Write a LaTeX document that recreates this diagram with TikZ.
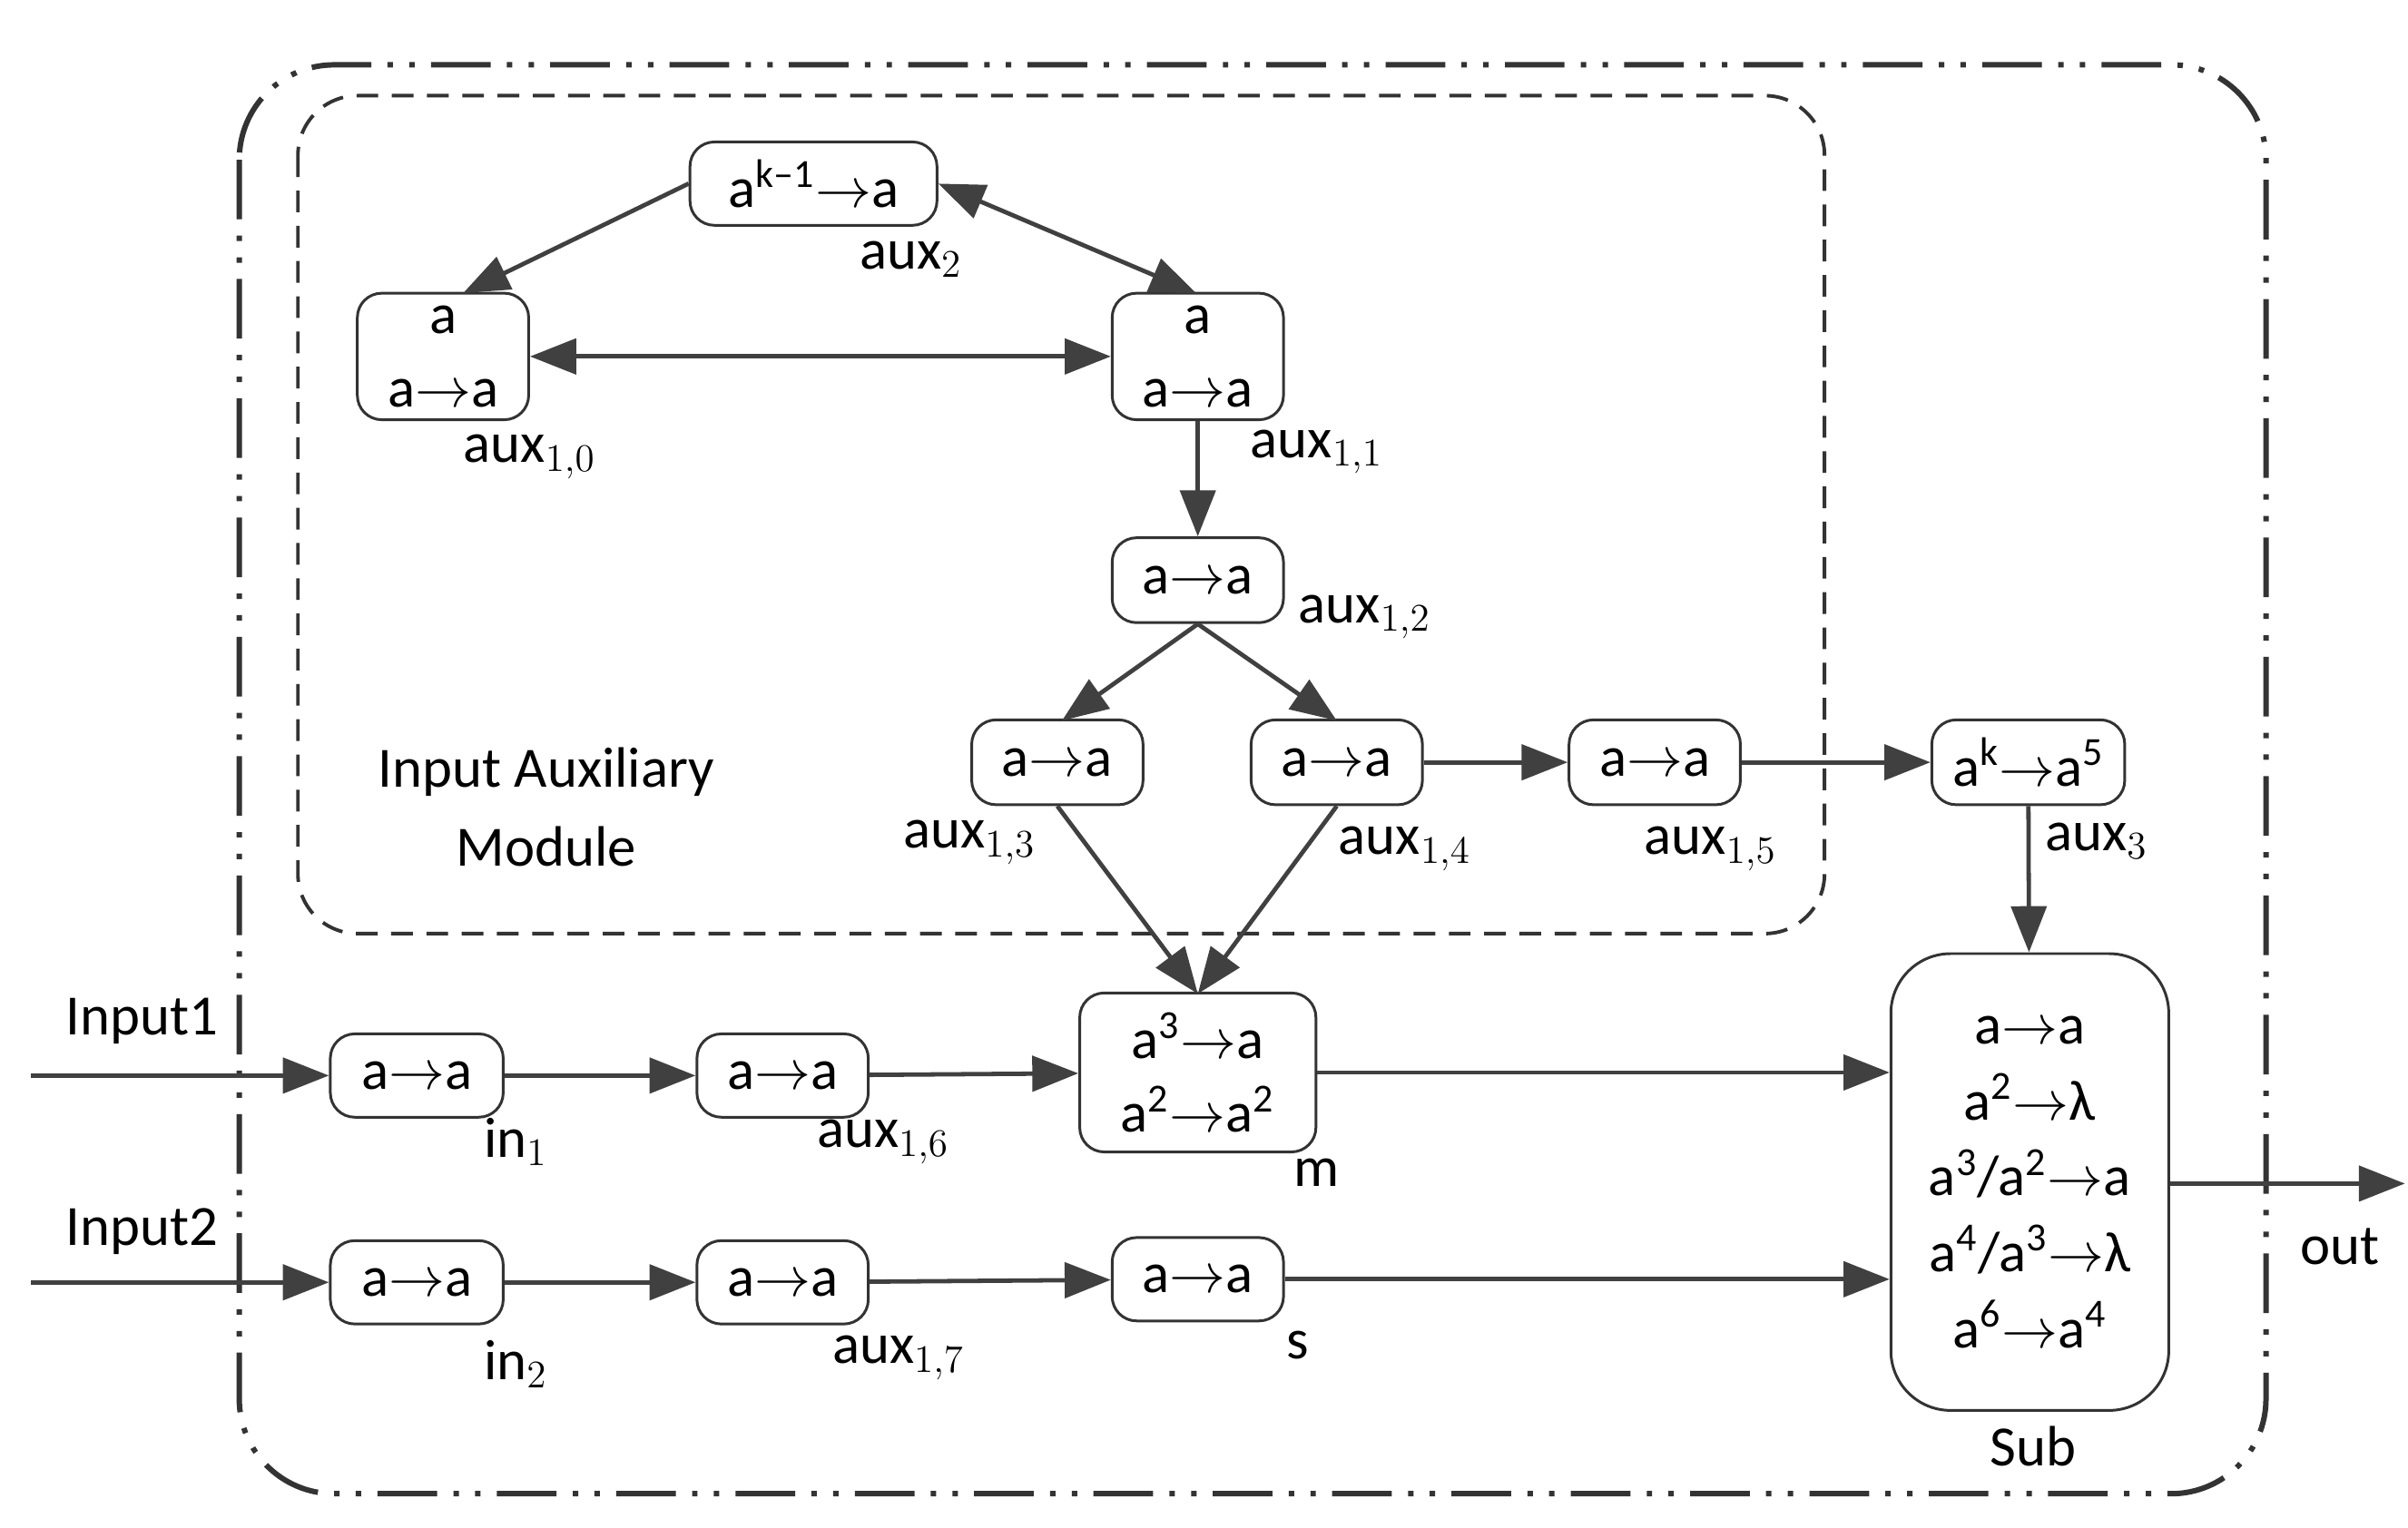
\documentclass[tikz,border=0pt]{standalone}
\usepackage{fontspec}
\setmainfont{Carlito}
\usetikzlibrary{arrows.meta}
\begin{document}
\begin{tikzpicture}[x=0.02cm,y=-0.02cm,
  every node/.style={font=\fontsize{21}{25}\selectfont, text=black},
  box/.style={draw=black!80, line width=1pt, rounded corners=9pt, inner sep=0pt},
  lab/.style={inner sep=0pt},
  arr/.style={draw=black!75, line width=1.6pt, -{Triangle[length=17pt,width=13pt]}},
  darr/.style={draw=black!75, line width=1.6pt, {Triangle[length=17pt,width=13pt]}-{Triangle[length=17pt,width=13pt]}}]
\useasboundingbox (0,0) rectangle (1560,990);
\newcommand{\ar}{$\rightarrow$}
\newcommand{\sps}[1]{\textsuperscript{#1}}
% frames
\draw[black!80, line width=2pt, dash pattern=on 22pt off 6pt on 2pt off 6pt on 2pt off 6pt, rounded corners=35pt] (155,42) rectangle (1468,968);
\draw[black!80, line width=1.3pt, dash pattern=on 8pt off 5pt, rounded corners=22pt] (193,62) rectangle (1182,605);
% nodes
\node[box, minimum width=160*0.02cm, minimum height=54*0.02cm] (aux2) at (527,119) {a\sps{k–1}\ar a};
\node[box, minimum width=111*0.02cm, minimum height=82*0.02cm, align=center] (aux10) at (287,231) {a\\[2pt]a\ar a};
\node[box, minimum width=111*0.02cm, minimum height=82*0.02cm, align=center] (aux11) at (776,231) {a\\[2pt]a\ar a};
\node[box, minimum width=111*0.02cm, minimum height=55*0.02cm] (aux12) at (776,376) {a\ar a};
\node[box, minimum width=111*0.02cm, minimum height=55*0.02cm] (aux13) at (685,494) {a\ar a};
\node[box, minimum width=111*0.02cm, minimum height=55*0.02cm] (aux14) at (866,494) {a\ar a};
\node[box, minimum width=111*0.02cm, minimum height=55*0.02cm] (aux15) at (1072,494) {a\ar a};
\node[box, minimum width=125*0.02cm, minimum height=55*0.02cm] (aux3) at (1314,494) {a\sps{k}\ar a\sps{5}};
\node[box, minimum width=153*0.02cm, minimum height=103*0.02cm, align=center] (m) at (776,695) {a\sps{3}\ar a\\[2pt]a\sps{2}\ar a\sps{2}};
\node[box, minimum width=112*0.02cm, minimum height=54*0.02cm] (in1) at (270,697) {a\ar a};
\node[box, minimum width=111*0.02cm, minimum height=54*0.02cm] (aux16) at (507,697) {a\ar a};
\node[box, minimum width=112*0.02cm, minimum height=54*0.02cm] (in2) at (270,831) {a\ar a};
\node[box, minimum width=111*0.02cm, minimum height=54*0.02cm] (aux17) at (507,831) {a\ar a};
\node[box, minimum width=111*0.02cm, minimum height=54*0.02cm] (s) at (776,829) {a\ar a};
\node[box, minimum width=180*0.02cm, minimum height=296*0.02cm, align=center, rounded corners=22pt] (sub) at (1315,766)
  {a\ar a\\[3pt]a\sps{2}\ar λ\\[3pt]a\sps{3}/a\sps{2}\ar a\\[3pt]a\sps{4}/a\sps{3}\ar λ\\[3pt]a\sps{6}\ar a\sps{4}};
% labels
\node[lab] at (590,168) {aux$_2$};
\node[lab] at (343,296) {aux$_{1,0}$};
\node[lab] at (853,293) {aux$_{1,1}$};
\node[lab] at (884,400) {aux$_{1,2}$};
\node[lab] at (628,546) {aux$_{1,3}$};
\node[lab] at (910,550) {aux$_{1,4}$};
\node[lab] at (1108,550) {aux$_{1,5}$};
\node[lab] at (1358,545) {aux$_3$};
\node[lab] at (853,760) {m};
\node[lab] at (334,740) {in$_1$};
\node[lab] at (572,740) {aux$_{1,6}$};
\node[lab] at (334,884) {in$_2$};
\node[lab] at (582,880) {aux$_{1,7}$};
\node[lab] at (841,872) {s};
\node[lab] at (1317,937) {Sub};
\node[lab, align=center] at (354,523) {Input Auxiliary\\[4pt]Module};
\node[lab] at (92,662) {Input1};
\node[lab] at (92,798) {Input2};
\node[lab] at (1516,808) {out};
\coordinate (s1) at (20,697);
\coordinate (s2) at (20,831);
\coordinate (o) at (1558,767);
% connectors
\draw[arr] (aux2.west) -- (300,190);
\draw[darr] (aux2.east) -- (775,190);
\draw[darr] (aux10) -- (aux11);
\draw[arr] (aux11) -- (aux12);
\draw[arr] (aux12.south) -- (688,467);
\draw[arr] (aux12.south) -- (866,467);
\draw[arr] (aux14) -- (aux15);
\draw[arr] (aux15) -- (aux3);
\draw[arr] (aux3) -- (sub);
\draw[arr] (aux13.south) -- (776,644);
\draw[arr] (aux14.south) -- (776,644);
\draw[arr] (s1) -- (in1);
\draw[arr] (in1) -- (aux16);
\draw[arr] (aux16) -- (m);
\draw[arr] (m.east) -- (sub.west |- m.east);
\draw[arr] (s2) -- (in2);
\draw[arr] (in2) -- (aux17);
\draw[arr] (aux17) -- (s);
\draw[arr] (s.east) -- (sub.west |- s.east);
\draw[arr] (sub.east |- o) -- (o);
\end{tikzpicture}
\end{document}
